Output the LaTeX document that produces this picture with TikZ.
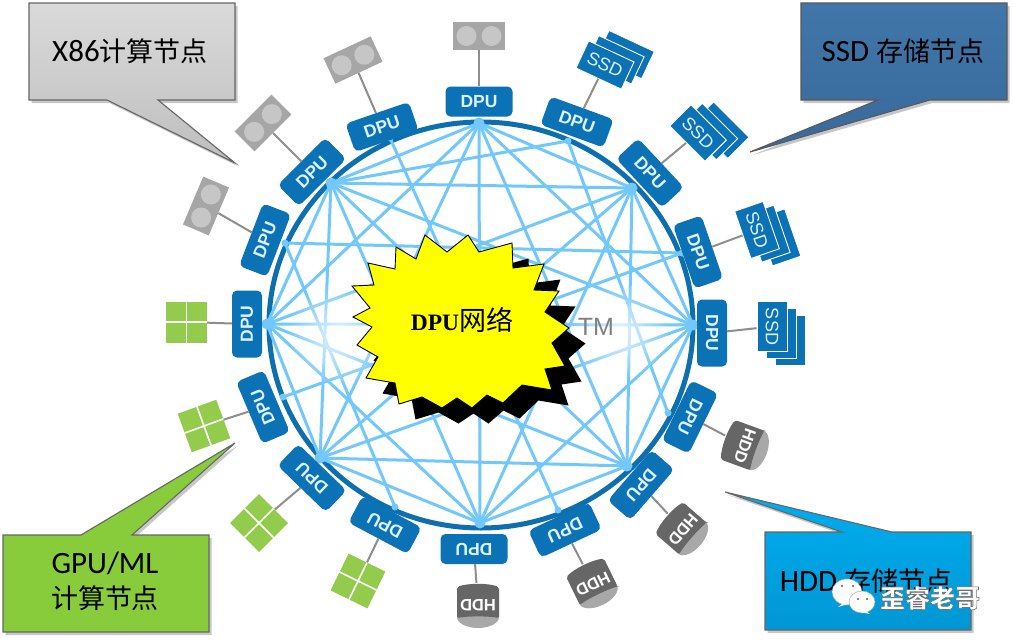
\documentclass[tikz,border=0pt]{standalone}
\usepackage{fontspec}
\setmainfont{Carlito}
\newfontfamily\cjk{Noto Sans CJK SC}
\newfontfamily\lab{Liberation Sans}
\newfontfamily\tms{Liberation Serif}
\usetikzlibrary{fadings}
\definecolor{dpublue}{HTML}{0B72B5}
\definecolor{ringblue}{HTML}{0E6FAE}
\definecolor{meshblue}{HTML}{72C8FB}
\definecolor{dputext}{HTML}{DDF1FF}
\definecolor{grayback}{HTML}{A6A6A6}
\definecolor{graydisc}{HTML}{C6C6C6}
\definecolor{gridgreen}{HTML}{93CB4C}
\definecolor{hdddark}{HTML}{666666}
\definecolor{hddlight}{HTML}{A8A8A8}
\definecolor{wirecol}{HTML}{8E8E8E}
\definecolor{staryellow}{HTML}{FFFF00}
\definecolor{ssdtop}{HTML}{4176AA}
\definecolor{ssdbot}{HTML}{386A9A}
\definecolor{gpugreen}{HTML}{88CC3C}
\definecolor{hddtop}{HTML}{00AEEF}
\definecolor{hddbot}{HTML}{0097D4}
\definecolor{x86top}{HTML}{DADADA}
\definecolor{x86bot}{HTML}{BEBEBE}
\tikzfading[name=glowfade, inner color=transparent!15, outer color=transparent!100]
\tikzset{
  x=1pt,y=-1pt,
  dpubox/.style={fill=dpublue,rounded corners=5pt,minimum width=67pt,minimum height=30pt,inner sep=0pt,
    text=dputext,font=\lab\bfseries\fontsize{17.5}{17.5}\selectfont},
  wire/.style={draw=wirecol,line width=2pt},
  mesh/.style={draw=meshblue,line width=3pt},
  graydev/.style={fill=grayback,minimum width=52pt,minimum height=28pt,inner sep=0pt},
  greendev/.style={fill=gridgreen,minimum width=41pt,minimum height=41pt,inner sep=0pt},
  ssdcard/.style={fill=dpublue,draw=white,line width=.9pt,minimum width=50pt,minimum height=30pt,inner sep=0pt,
    text=dputext,font=\lab\fontsize{18}{18}\selectfont},
  hddnode/.style={minimum width=42pt,minimum height=44pt,inner sep=0pt,
    text=white,font=\lab\bfseries\fontsize{16.5}{16.5}\selectfont},
  calloutshadow/.style={fill=black,fill opacity=.22},
  callouttext/.style={inner sep=0pt,align=center,text=black,font=\fontsize{31}{36}\selectfont},
}
\newcommand{\zh}[1]{{\cjk\fontsize{27}{36}\selectfont #1}}
\newcommand{\graydevice}[4]{%
  \node[graydev,rotate=#4] (#1) at (#2,#3) {};
  \begin{scope}[shift={(#2,#3)},rotate=#4]
    \fill[graydisc] (-12.5,0) circle (10);
    \fill[graydisc] (12.5,0) circle (10);
  \end{scope}}
\newcommand{\greendevice}[4]{%
  \node[greendev,rotate=#4] (#1) at (#2,#3) {};
  \begin{scope}[shift={(#2,#3)},rotate=#4]
    \draw[white,line width=1.6pt] (-20.5,0) -- (20.5,0) (0,-20.5) -- (0,20.5);
  \end{scope}}
\newcommand{\ssddevice}[4]{%
  \begin{scope}[shift={(#2,#3)},rotate=#4]
    \filldraw[fill=dpublue,draw=white,line width=.9pt] (-11,-33) rectangle (39,-3);
    \filldraw[fill=dpublue,draw=white,line width=.9pt] (-18,-24) rectangle (32,6);
  \end{scope}
  \node[ssdcard,rotate=#4] (#1) at (#2,#3) {SSD};}
\newcommand{\hdddevice}[4]{%
  \begin{scope}[shift={(#2,#3)},rotate=#4]
    \fill[hddlight] (0,-12) ellipse (21 and 11);
    \fill[hdddark,rounded corners=2pt] (-21,-13) -- (-21,18) .. controls (-10,22) and (10,22) .. (21,18) -- (21,-13) .. controls (10,-11) and (-10,-11) .. cycle;
  \end{scope}
  \node[hddnode,rotate=#4] (#1) at (#2,#3) {HDD};}
\begin{document}
\begin{tikzpicture}
\useasboundingbox (0,0) rectangle (1013,643);
\fill[white] (0,0) rectangle (1013,643);

% ring
\draw[ringblue,line width=5pt] (481,325) ellipse (212 and 203);

% mesh hubs
\coordinate (hT) at (479,123);
\coordinate (hUR) at (632,188);
\coordinate (hR) at (693,325);
\coordinate (hLR) at (627,466);
\coordinate (hB) at (480,523);
\coordinate (hLL) at (320,458);
\coordinate (hL) at (267,324);
\coordinate (hUL) at (331,183);
\coordinate (xa) at (285,243);
\coordinate (xb) at (390,138);
\coordinate (xc) at (395,507);
\coordinate (xd) at (558,510);
\coordinate (xe) at (568,141);
\coordinate (xf) at (668,413);
\coordinate (xg) at (682,253);
\coordinate (xh) at (283,397);
\foreach \p/\q in {hT/hUR,hT/hR,hT/hLR,hT/hB,hT/hLL,hT/hL,hT/hUL,
  hUR/hR,hUR/hLR,hUR/hB,hUR/hLL,hUR/hL,hUR/hUL,
  hR/hLR,hR/hB,hR/hLL,hR/hL,hR/hUL,
  hLR/hB,hLR/hLL,hLR/hL,hLR/hUL,
  hB/hLL,hB/hL,hB/hUL,
  hLL/hL,hLL/hUL,hL/hUL,
  xa/xg,xa/xc,xb/xd,xe/hUL,xe/xf,xh/xg}
  \draw[mesh] (\p) -- (\q);
\foreach \p in {hT,hUR,hR,hLR,hB,hLL,hL,hUL}
  \fill[meshblue] (\p) circle (5.5);
\foreach \p in {xa,xb,xc,xd,xe,xf,xg,xh}
  \fill[meshblue] (\p) circle (3.5);

% faded region around the former logo
\fill[white,path fading=glowfade] (338,335) ellipse (52 and 52);
\fill[white,path fading=glowfade] (618,332) ellipse (52 and 48);
\node[text=black!50,font=\lab\fontsize{25}{25}\selectfont,inner sep=0pt] (tm) at (596,327) {TM};

% star
\def\starpts{(425,235) -- (447,252) -- (468,235) -- (479,252) -- (512,243) -- (513,268) -- (544,264) -- (534,290) -- (559,291) -- (545,312) -- (569,328) -- (552,343) -- (565,366) -- (545,369) -- (552,390) -- (522,385) -- (503,403) -- (487,395) -- (472,408) -- (457,398) -- (442,408) -- (422,397) -- (399,404) -- (395,383) -- (366,378) -- (378,357) -- (357,345) -- (372,327) -- (353,317) -- (370,308) -- (352,286) -- (374,285) -- (368,263) -- (395,269) -- (396,247) -- (416,259) -- cycle}
\begin{scope}[shift={(16.5,15.5)}]
  \fill[black] \starpts;
\end{scope}
\filldraw[fill=staryellow,draw=black,line width=.9pt] \starpts;
\node[inner sep=0pt,text=black] (star) at (462,320) {{\tms\bfseries\fontsize{23.5}{24}\selectfont DPU}{\cjk\fontsize{27}{27}\selectfont 网络}};

% DPUs
\foreach \i/\x/\y/\r in {1/479/101.5/0,2/577/122/-20,3/650/173/-47,4/698/252/-71,5/712/333/-90,
  6/690/417/-116,7/641/485/-131,8/565/530/-155,9/474/549/180,10/385/525/152,11/312/478/136,
  12/263/407/113,13/247/324/90,14/265/240/69,15/312/172/45,16/382/127/19}
  \node[dpubox,rotate=\r] (d\i) at (\x,\y) {DPU};

% attached devices
\graydevice{g1}{479}{36}{0}
\graydevice{g16}{353}{60}{25}
\graydevice{g15}{263}{123}{45}
\graydevice{g14}{206}{206}{67}
\greendevice{m13}{186.5}{322}{0}
\greendevice{m12}{204}{426}{20}
\greendevice{m11}{259}{523}{45}
\greendevice{m10}{358}{581}{-26}
\hdddevice{h9}{478}{605}{180}
\hdddevice{h8}{593}{584}{206}
\hdddevice{h7}{683}{530}{229}
\hdddevice{h6}{745}{446}{250}
\ssddevice{s5}{772}{326.5}{-90}
\ssddevice{s4}{757}{230}{-71}
\ssddevice{s3}{698}{133}{-45}
\ssddevice{s2}{605}{65}{-25}
\foreach \a/\b in {d1/g1,d16/g16,d15/g15,d14/g14,d13/m13,d12/m12,d11/m11,d10/m10,
  d9/h9,d8/h8,d7/h7,d6/h6,d5/s5,d4/s4,d3/s3,d2/s2}
  \draw[wire] (\a) -- (\b);

% callouts
\def\xpath{(29,3) -- (235,3) -- (235,100) -- (158,100) -- (235,163) -- (107,100) -- (29,100) -- cycle}
\def\spath{(801,3) -- (1007,3) -- (1007,100) -- (930,100) -- (750,152) -- (878,100) -- (801,100) -- cycle}
\def\gpath{(3,535) -- (81,535) -- (235,443) -- (132,535) -- (209,535) -- (209,632) -- (3,632) -- cycle}
\def\hpath{(765,532) -- (842,532) -- (725,492) -- (892,532) -- (971,532) -- (971,630) -- (765,630) -- cycle}
\begin{scope}[shift={(2.5,3)}]
  \fill[calloutshadow] \xpath;
  \fill[calloutshadow] \spath;
  \fill[calloutshadow] \gpath;
  \fill[calloutshadow] \hpath;
\end{scope}
\draw[draw=black!60,line width=1.1pt,top color=x86top,bottom color=x86bot] \xpath;
\draw[draw=black!65,line width=1.1pt,top color=ssdtop,bottom color=ssdbot] \spath;
\draw[draw=black!60,line width=1.1pt,fill=gpugreen] \gpath;
\draw[draw=black!60,line width=1.1pt,top color=hddtop,bottom color=hddbot] \hpath;
\node[callouttext] (tx) at (130,51) {X86\zh{计算节点}};
\node[callouttext] (ts) at (903,51) {SSD \zh{存储节点}};
\node[callouttext] (tg) at (105,581) {GPU/ML\\[-1pt]\zh{计算节点}};
\node[callouttext] (th) at (866,581) {HDD \zh{存储节点}};

% watermark
\fill[white,draw=black!35,line width=.5pt] (847,592) ellipse (15 and 13);
\fill[white,draw=black!35,line width=.5pt] (862,602) ellipse (13 and 11);
\fill[white] (842,604) -- (838,607) -- (848,604) -- cycle;
\fill[white] (866,611) -- (870,614) -- (860,612) -- cycle;
\fill[black!65] (842,586) circle (1.2) (853,586) circle (1.2) (858,599) circle (1.1) (867,599) circle (1.1);
\node[inner sep=0pt,text=white,font=\cjk\bfseries\fontsize{25}{25}\selectfont] (wm) at (930,598) {\special{pdf:code 0.45 G 0.6 w 2 Tr}歪睿老哥\special{pdf:code 0 Tr}};
\end{tikzpicture}
\end{document}
